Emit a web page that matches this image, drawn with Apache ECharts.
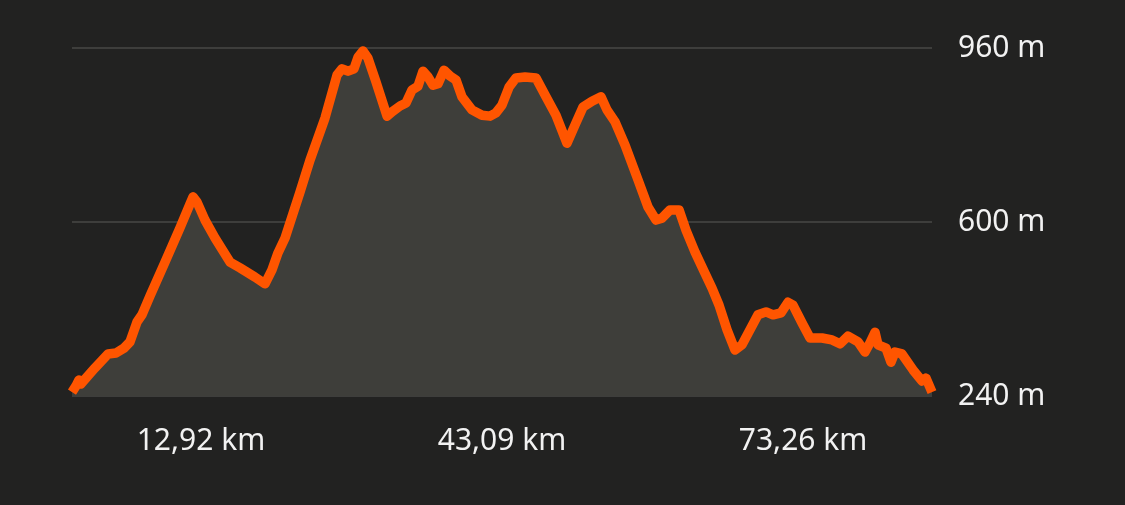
<!DOCTYPE html>
<html>
<head>
<meta charset="utf-8">
<script src="https://cdn.jsdelivr.net/npm/echarts@6/dist/echarts.min.js"></script>
<style>
html,body{margin:0;padding:0;background:#222221;}
#chart{width:1125px;height:505px;}
</style>
</head>
<body>
<div id="chart"></div>
<script>
// Distance along route (km)
const distanceKm = [0,0.40,0.70,0.90,1.40,2.30,3.61,4.41,5.21,5.81,6.51,7.01,7.82,9.32,10.82,11.82,12.13,12.53,13.33,14.33,15.83,16.84,18.34,19.34,20.04,20.64,21.35,22.85,23.85,25.35,26.56,27.06,27.66,28.26,28.66,29.16,29.66,30.46,31.57,32.07,32.87,33.47,34.07,34.67,35.17,35.68,36.18,36.68,37.28,37.88,38.48,39.08,40.08,41.09,41.89,42.49,43.09,43.79,44.49,45.40,46.50,47.50,48.50,49.60,50.41,51.21,52.11,53.01,53.61,54.42,55.42,56.72,57.72,58.52,59.12,59.93,60.83,61.53,62.43,63.43,64.14,64.84,65.64,66.44,67.14,67.94,68.74,69.55,70.25,71.05,71.75,72.25,73.16,73.96,75.16,76.16,76.96,77.76,78.77,79.47,79.97,80.47,80.77,81.57,82.07,82.47,83.17,84.28,85.18,85.58,86.18];
// Elevation (m)
const elevationM = [248,261,273,265,277,298,327,329,339,352,393,408,447,517,588,637,652,641,604,567,517,505,486,472,501,536,567,662,728,815,904,917,912,917,941,954,939,890,819,828,840,846,873,881,912,900,883,886,914,902,894,859,832,821,819,826,842,879,898,900,898,859,821,763,801,838,850,859,832,807,759,687,631,604,608,625,625,583,538,494,463,428,377,335,346,377,408,414,408,412,434,428,391,360,360,356,348,364,352,331,350,372,346,339,310,331,327,294,271,277,248];
// Axis tick labels
const xTickValues = [12.92, 43.09, 73.26];
const yTickValues = [240, 600, 960];
const totalKm = 86.18;

const seriesData = distanceKm.map((d, i) => [d, elevationM[i]]);

const chart = echarts.init(document.getElementById('chart'));
chart.setOption({
  backgroundColor: '#222221',
  animation: false,
  grid: {left: 72, right: 193, top: 48, bottom: 109, containLabel: false},
  xAxis: {
    type: 'value', min: 0, max: totalKm,
    axisLine: {show: false},
    axisTick: {show: false, customValues: xTickValues},
    splitLine: {show: false},
    axisLabel: {
      customValues: xTickValues,
      margin: 30,
      color: '#f2f2f2',
      fontFamily: 'Noto Sans',
      fontSize: 30,
      formatter: v => v.toFixed(2).replace('.', ',') + ' km'
    }
  },
  yAxis: {
    type: 'value', position: 'right', min: 240, max: 960,
    axisLine: {show: false},
    axisTick: {show: false, customValues: yTickValues},
    splitLine: {show: true, lineStyle: {color: '#484846', width: 1.5}},
    axisLabel: {
      customValues: yTickValues,
      margin: 26,
      color: '#f2f2f2',
      fontFamily: 'Noto Sans',
      fontSize: 30,
      formatter: v => v + ' m'
    }
  },
  series: [{
    type: 'line',
    data: seriesData,
    showSymbol: false,
    symbol: 'none',
    lineStyle: {color: '#ff5500', width: 9.5, join: 'round', cap: 'butt'},
    areaStyle: {color: '#3e3e3a', opacity: 1, origin: 'start'},
    z: 3
  }]
});
</script>
</body>
</html>
